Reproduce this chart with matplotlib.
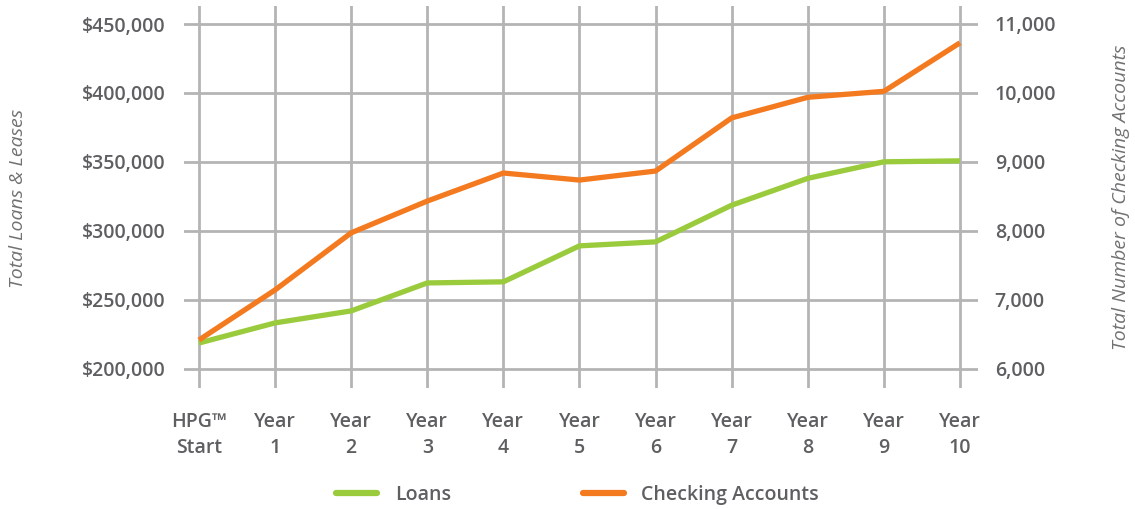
import numpy as np
import matplotlib
matplotlib.use('Agg')
import matplotlib.pyplot as plt
from matplotlib.ticker import FuncFormatter

plt.rcParams['font.family'] = ['Open Sans', 'DejaVu Sans']

periods = ['HPG™\nStart', 'Year\n1', 'Year\n2', 'Year\n3', 'Year\n4', 'Year\n5',
           'Year\n6', 'Year\n7', 'Year\n8', 'Year\n9', 'Year\n10']
loans = [218500, 233100, 241800, 262100, 262900, 289000,
         291900, 318500, 338000, 350000, 350700]
checking = [6414, 7140, 7969, 8430, 8837, 8735,
            8866, 9637, 9936, 10023, 10727]
loan_ticks = [200000, 250000, 300000, 350000, 400000, 450000]
checking_ticks = [6000, 7000, 8000, 9000, 10000, 11000]

green = '#9acb3c'
orange = '#f47a20'
grid_c = '#b4b4b4'
text_c = '#5e5f61'

x = np.arange(len(periods))

fig = plt.figure(figsize=(11.35, 5.09), dpi=100, facecolor='white')
ax = fig.add_axes([0.1621, 0.2377, 0.6996, 0.7505])
ax2 = ax.twinx()

ax.set_xlim(-0.197, 10.237)
ax.set_ylim(185850, 463060)
ax2.set_ylim(5717, 11261)

ax.set_yticks(loan_ticks)
ax2.set_yticks(checking_ticks)
ax.set_xticks(x)
ax.set_xticklabels(periods)

ax.yaxis.set_major_formatter(FuncFormatter(lambda v, p: f'${v:,.0f}'))
ax2.yaxis.set_major_formatter(FuncFormatter(lambda v, p: f'{v:,.0f}'))

ax.grid(True, color=grid_c, linewidth=2.0, zorder=0)
ax.set_axisbelow(True)

for a in (ax, ax2):
    for s in a.spines.values():
        s.set_visible(False)
    a.tick_params(length=0, labelsize=14, labelcolor=text_c)
ax.tick_params(axis='y', pad=13)
ax2.tick_params(axis='y', pad=12)
ax.tick_params(axis='x', pad=17)
for lab in ax.get_xticklabels() + ax.get_yticklabels() + ax2.get_yticklabels():
    lab.set_fontweight('semibold')
for lab in ax.get_xticklabels():
    lab.set_linespacing(1.45)

l1, = ax.plot(x, loans, color=green, linewidth=3.8, solid_capstyle='butt', zorder=3)
l2, = ax2.plot(x, checking, color=orange, linewidth=3.8, solid_capstyle='butt', zorder=3)

fig.text(0.016, 0.61, 'Total Loans & Leases', rotation=90, style='italic',
         fontsize=14, color='#707173', ha='center', va='center')
fig.text(0.988, 0.613, 'Total Number of Checking Accounts', rotation=90, style='italic',
         fontsize=14, color='#707173', ha='center', va='center')

leg = fig.legend([l1, l2], ['Loans', 'Checking Accounts'], loc='center',
                 bbox_to_anchor=(0.509, 0.028), ncol=2, frameon=False,
                 fontsize=14, handlelength=2.1, handletextpad=0.9, columnspacing=6.8)
for t in leg.get_texts():
    t.set_color(text_c)
    t.set_fontweight('semibold')
for h in leg.get_lines():
    h.set_linewidth(4.5)
    h.set_solid_capstyle('round')

fig.savefig('out.png', dpi=100, facecolor='white')
